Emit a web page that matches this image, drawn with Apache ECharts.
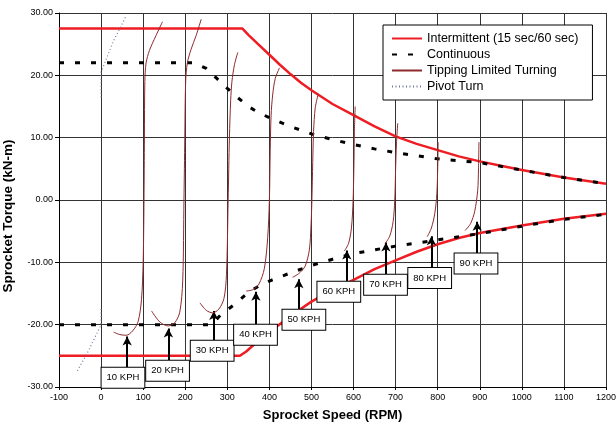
<!DOCTYPE html>
<html>
<head>
<meta charset="utf-8">
<script src="https://cdn.jsdelivr.net/npm/echarts@6/dist/echarts.min.js"></script>
<style>html,body{margin:0;padding:0;background:#fff;}#chart{width:616px;height:427px;}</style>
</head>
<body>
<div id="chart"></div>
<script>
// ---- data (RPM, kN-m) ----
const intermittentUpper = [[-100,27.5],[336,27.5],[350,26.5],[375,24.9],[400,23.3],[425,21.7],[450,20.2],[475,18.8],[500,17.6],[550,15.4],[600,13.6],[650,11.8],[700,10.2],[750,9.0],[800,8.0],[850,7.0],[900,6.2],[950,5.5],[1000,4.8],[1100,3.6],[1200,2.6]];
const intermittentLower = [[-100,-25],[330,-25],[345,-24.3],[365,-23.1],[400,-21.2],[450,-18.6],[500,-16.3],[550,-14.4],[600,-12.8],[650,-11.1],[700,-9.7],[750,-8.3],[800,-7.1],[850,-6.1],[900,-5.3],[950,-4.7],[1000,-4.1],[1100,-3.0],[1200,-2.2]];
const continuousUpper = [[-100,22],[222,22],[250,21.1],[275,19.5],[300,17.9],[325,16.4],[350,15.0],[375,14.0],[400,13.2],[450,11.8],[500,10.6],[550,9.7],[600,8.9],[650,8.2],[700,7.6],[800,6.6],[900,6.0],[1000,4.8],[1100,3.6],[1200,2.6]];
const continuousLower = [[-100,-20],[262,-20],[285,-18.4],[320,-16.6],[350,-14.8],[375,-13.8],[400,-13.0],[450,-11.7],[500,-10.5],[550,-9.5],[600,-8.6],[650,-8.0],[700,-7.4],[800,-6.4],[900,-5.4],[1000,-4.2],[1100,-3.1],[1200,-2.3]];
const pivotUpper = [[0,16.5],[0,20.5],[10,22.2],[30,25.6],[58,29.3]];
const pivotLower = [[0,-17.5],[0,-20],[-10,-21.4],[-30,-24.2],[-58,-27.6]];
const tip10 = [[30,-21.2],[45,-21.6],[60,-21.7],[75,-21],[88,-19.5],[96,-16],[100,-10],[102,0],[103,10],[104,19],[107,22],[115,24],[130,26.3],[146,28.6]];
const tip20 = [[120,-17.8],[140,-19.6],[160,-20.2],[175,-19.7],[187,-18],[194,-13],[197,0],[199,10],[201,19],[205,22],[214,24.2],[226,26.4],[238,29]];
const tip30 = [[235,-16.5],[250,-17.7],[265,-18.1],[280,-17.5],[292,-15.8],[298,-12],[302,0],[305,10],[308,16],[311,19],[317,21.7],[325,23.7]];
const tip40 = [[345,-14.6],[360,-14.4],[375,-13.5],[388,-11],[396,-6],[400,0],[402,8],[404,13.5],[408,17],[414,19.5],[424,21.2]];
const tip50 = [[455,-12.4],[470,-11.8],[485,-10.6],[495,-8],[499,-4],[501,0],[503,6],[505,11],[509,14.8],[516,17]];
const tip60 = [[578,-8.2],[588,-7],[595,-4.5],[599,0],[601,6],[602,11],[604,15]];
const tip70 = [[675,-7],[686,-5.8],[694,-3.5],[698,0],[700,5],[702,9],[705,12.3]];
const tip80 = [[775,-5.9],[785,-4.5],[793,-2.2],[798,1],[800,5],[801,9.3]];
const tip90 = [[865,-4.9],[878,-3.8],[888,-1.8],[895,1.5],[897,5],[898,9.3]];
const tipCurves = [tip10, tip20, tip30, tip40, tip50, tip60, tip70, tip80, tip90];
const kphLabels = ['10 KPH','20 KPH','30 KPH','40 KPH','50 KPH','60 KPH','70 KPH','80 KPH','90 KPH'];
const arrowX = [62,160,268,368,470,584,677,785,894];
const arrowTop = [-21.9,-20.6,-17.8,-14.7,-12.7,-8.1,-6.8,-5.8,-3.5];
const arrowBase = [-26.9,-25.8,-22.6,-20,-17.7,-13.1,-12,-10.9,-8.6];
const boxX = [52,158,264,367,482,565,676,781,891];
const boxY = [-28.5,-27.4,-24.2,-21.6,-19.2,-14.7,-13.6,-12.5,-10.2];
const xTicks = {min:-100, max:1200, step:100};
const yTicks = {min:-30, max:30, step:10};
const legendNames = ['Intermittent (15 sec/60 sec)','Continuous','Tipping Limited Turning','Pivot Turn'];

// ---- chart ----
const RED = '#ee1d23', TIP = '#8e2a2a', PIV = '#6f7896';
const font = '"Liberation Sans", Arial, sans-serif';
const series = [];
function lineSeries(name, data, style, extra) {
  return Object.assign({ name, type:'line', data, symbol:'none', showSymbol:false, silent:true,
    lineStyle: style, itemStyle:{color:style.color}, animation:false }, extra || {});
}
series.push(lineSeries(legendNames[0], intermittentUpper, {color:RED, width:2.5}, {z:3}));
series.push(lineSeries(legendNames[0], intermittentLower, {color:RED, width:2.5}, {z:3}));
series.push(lineSeries(legendNames[1], continuousUpper, {color:'#000', width:3, type:[5,11]}, {z:4}));
series.push(lineSeries(legendNames[1], continuousLower, {color:'#000', width:3, type:[5,11]}, {z:4}));
tipCurves.forEach(c => series.push(lineSeries(legendNames[2], c, {color:TIP, width:1}, {smooth:0.3, z:5})));
series.push(lineSeries(legendNames[3], pivotUpper, {color:PIV, width:1.2, type:[1,2.5]}, {z:5}));
series.push(lineSeries(legendNames[3], pivotLower, {color:PIV, width:1.2, type:[1,2.5]}, {z:5}));
// arrows
series.push({ name:'arrows', type:'line', data:[], silent:true, animation:false, z:6,
  markLine:{ silent:true, animation:false, symbol:['none','arrow'], symbolSize:[7,9],
    lineStyle:{color:'#000', width:2, type:'solid'}, label:{show:false},
    data: arrowX.map((x,i)=>[{coord:[x, arrowBase[i]]},{coord:[x, arrowTop[i]]}]) } });
// label boxes
series.push({ name:'boxes', type:'scatter', silent:true, animation:false, z:10,
  symbol:'rect', symbolSize:1, itemStyle:{color:'#fff', opacity:1},
  data: boxX.map((x,i)=>({value:[x, boxY[i]], name:kphLabels[i]})),
  labelLayout:{hideOverlap:false},
  emphasis:{disabled:true},
  label:{ show:true, position:'inside', formatter:'{b}', color:'#000', opacity:1, fontSize:9.5, fontFamily:font,
    backgroundColor:'#fff', borderColor:'#000', borderWidth:1, textBorderWidth:0, padding:[5,5,5,5] } });

const chart = echarts.init(document.getElementById('chart'), null, {renderer:'canvas'});
chart.setOption({
  backgroundColor:'#fff',
  animation:false,
  textStyle:{fontFamily:font},
  grid:{left:59, right:10, top:13, bottom:40, containLabel:false, outerBoundsMode:'none'},
  legend:{ data:legendNames, orient:'vertical', left:383, top:25, backgroundColor:'#fff', borderColor:'#000', borderWidth:1,
    padding:[7,14,7,8], itemWidth:30, itemHeight:11, itemGap:3, itemStyle:{opacity:0},
    textStyle:{fontSize:12.5, lineHeight:12, color:'#000', fontFamily:font}, selectedMode:false },
  xAxis:{ type:'value', min:xTicks.min, max:xTicks.max, interval:xTicks.step,
    name:'Sprocket Speed (RPM)', nameLocation:'middle', nameGap:22,
    nameTextStyle:{fontSize:13, fontWeight:'bold', color:'#000', fontFamily:font},
    axisLine:{show:true, onZero:false, lineStyle:{color:'#000', width:1}},
    axisTick:{show:true, length:3, lineStyle:{color:'#000'}},
    axisLabel:{fontSize:9, color:'#000', margin:6, fontFamily:font, formatter:v=>String(v)},
    splitLine:{show:true, lineStyle:{color:'#333', width:1}} },
  yAxis:{ type:'value', min:yTicks.min, max:yTicks.max, interval:yTicks.step,
    name:'Sprocket Torque (kN-m)', nameLocation:'middle', nameGap:44, nameRotate:90,
    nameTextStyle:{fontSize:13.5, fontWeight:'bold', color:'#000', fontFamily:font, padding:[0,32,0,0]},
    axisLine:{show:true, onZero:false, lineStyle:{color:'#000', width:1}},
    axisTick:{show:true, length:4, lineStyle:{color:'#000'}},
    axisLabel:{fontSize:9, color:'#000', margin:6, fontFamily:font, formatter:v=>v.toFixed(2)},
    splitLine:{show:true, lineStyle:{color:'#333', width:1}} },
  series
});
</script>
</body>
</html>
